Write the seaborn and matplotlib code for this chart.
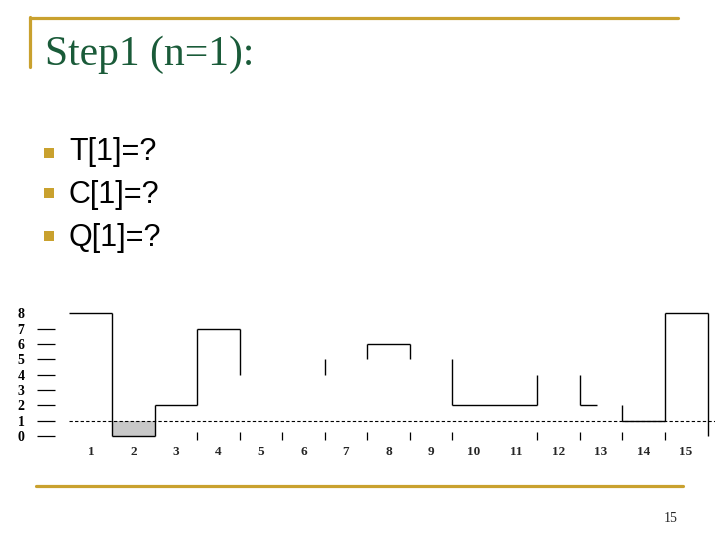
import matplotlib.pyplot as plt
import seaborn as sns
from matplotlib.patches import Rectangle
from matplotlib.lines import Line2D

# ---- datos de la diapositiva ----
titulo = "Step1 (n=1):"
vinetas = ["T[1]=?", "C[1]=?", "Q[1]=?"]
pagina = "15"

columnas = list(range(1, 16))
niveles_y = list(range(0, 9))

# tramos horizontales del perfil: inicio, fin, altura
h_ini = [0.48, 1.5, 2.5, 3.5, 7.5, 9.5, 12.5, 13.5, 14.5]
h_fin = [1.5, 2.5, 3.5, 4.5, 8.5, 11.5, 12.9, 14.5, 15.52]
h_alt = [8, 0, 2, 7, 6, 2, 2, 1, 8]

# tramos verticales: posicion, desde, hasta
v_pos = [1.5, 2.5, 3.5, 4.5, 6.5, 7.5, 8.5, 9.5, 11.5, 12.5, 13.5, 14.5, 15.52]
v_desde = [8, 0, 2, 7, 4, 5, 6, 5, 2, 4, 2, 1, 8]
v_hasta = [0, 2, 7, 4, 5, 6, 5, 2, 4, 2, 1, 8, 0]

col_sombreada = 2
alto_sombreado = 1
umbral = 1
marcas_borde = [3.5, 4.5, 5.5, 6.5, 7.5, 8.5, 9.5, 11.5, 12.5, 13.5, 14.5]

# ---- estilo ----
sns.set_style("white")
plt.rcParams['font.family'] = ['Liberation Serif', 'DejaVu Serif']

W, H = 720, 540
fig = plt.figure(figsize=(7.2, 5.4), dpi=100)
oro = "#c9a12e"
verde = "#1a5b39"

# marco dorado de la diapositiva
fig.add_artist(Line2D([30 / W, 678 / W], [1 - 18 / H, 1 - 18 / H], color=oro, lw=2.3))
fig.add_artist(Line2D([30 / W, 30 / W], [1 - 17 / H, 1 - 67 / H], color=oro, lw=2.3))
fig.add_artist(Line2D([36 / W, 683 / W], [1 - 486 / H, 1 - 486 / H], color=oro, lw=2.3))

fig.text(45 / W, 1 - 65 / H, titulo, fontsize=30, color=verde,
         family=['Liberation Serif', 'DejaVu Serif'], va='baseline', ha='left')

# viñetas: centro del cuadro y centro del texto (px)
y_cuadro = [153, 193, 236]
y_texto = [152, 195, 238]
for txt, yc, yt in zip(vinetas, y_cuadro, y_texto):
    fig.add_artist(Rectangle((44 / W, 1 - (yc + 5) / H), 10 / W, 10 / H,
                             transform=fig.transFigure, color=oro, lw=0))
    fig.text(69 / W, 1 - yt / H, txt, fontsize=22, color='black',
             family=['Liberation Sans', 'DejaVu Sans'], va='center', ha='left')

fig.text(671 / W, 1 - 518 / H, pagina, fontsize=10, ha='center', va='center',
         family=['Liberation Serif', 'DejaVu Serif'])

# ---- grafico ----
ax = fig.add_axes([55 / W, (H - 443.7) / H, 660 / W, 138.2 / H])
ax.set_xlim(0.153, 15.682)
ax.set_ylim(-0.5, 8.5)

ax.bar([col_sombreada], [alto_sombreado], width=1.0, color="#c8c8c8", lw=0, zorder=1)
ax.hlines(umbral, 0.48, 15.7, colors='black', lw=0.8, linestyles=(0, (3, 2)), zorder=2)
ax.hlines(h_alt, h_ini, h_fin, colors='black', lw=1.0, zorder=3)
ax.vlines(v_pos, v_desde, v_hasta, colors='black', lw=1.0, zorder=3)
ax.vlines(marcas_borde, -0.28, 0.26, colors='black', lw=0.9, zorder=3)

ax.set_yticks(niveles_y)
ax.set_yticklabels([str(v) for v in niveles_y], fontweight='bold', fontsize=10)
ax.tick_params(axis='y', direction='out', length=13, width=0.9, pad=9, colors='black', left=True)
ax.yaxis.get_major_ticks()[8].tick1line.set_visible(False)

ax.set_xticks(columnas)
ax.set_xticklabels([str(c) for c in columnas], fontweight='bold', fontsize=9.5)
ax.tick_params(axis='x', length=0, pad=2)

for s in ax.spines.values():
    s.set_visible(False)
ax.patch.set_alpha(0)

plt.savefig('out.png', dpi=100)
